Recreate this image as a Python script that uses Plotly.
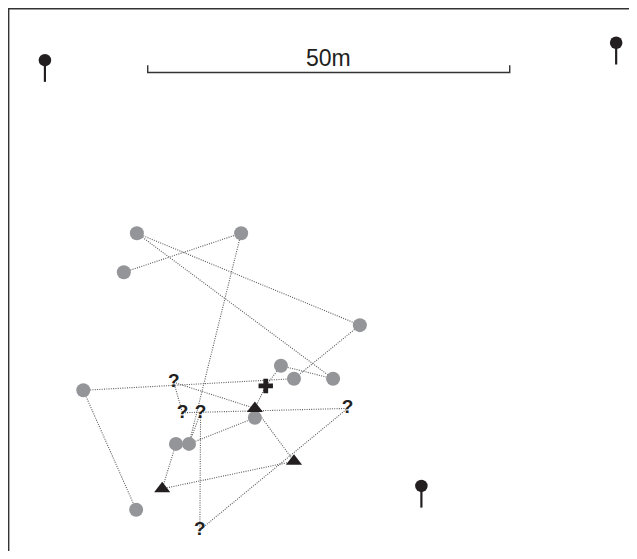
import plotly.graph_objects as go

# ---- data (metres; origin at lower-left of the map frame) ----
circle_names = ["A", "B", "C", "D", "E", "F", "G", "H", "I", "J", "K", "L"]
circle_x = [17.8, 32.2, 16.0, 48.6, 37.7, 39.5, 44.9, 10.4, 34.1, 23.2, 25.0, 17.7]
circle_y = [45.0, 45.0, 39.6, 32.3, 26.7, 24.9, 24.9, 23.3, 19.5, 15.9, 15.9, 6.8]

triangle_names = ["T1", "T2", "T3"]
triangle_x = [34.1, 39.5, 21.3]
triangle_y = [20.8, 13.5, 9.7]

question_names = ["Q1", "Q2", "Q3", "Q4", "Q5"]
question_x = [22.9, 24.1, 26.6, 46.9, 26.5]
question_y = [24.4, 20.2, 20.2, 20.8, 4.0]

cross_names = ["X"]
cross_x = [35.6]
cross_y = [23.9]

pin_x = [5.1, 84.0, 57.1]
pin_y = [68.9, 71.3, 10.1]

edges = [("A", "D"), ("A", "G"), ("C", "B"), ("B", "K"), ("D", "F"), ("E", "G"),
         ("E", "X"), ("X", "T1"), ("H", "F"), ("H", "L"), ("Q1", "T1"), ("Q1", "Q2"),
         ("Q2", "Q4"), ("Q3", "Q5"), ("Q3", "K"), ("Q5", "Q4"), ("K", "I"),
         ("J", "T3"), ("T3", "T2"), ("T1", "T2")]

scale_start_x = 19.3
scale_y = 67.2
scale_length = 50
scale_label = "50m"

# ---- styling ----
PX_PER_M = 7.24
MARGIN = 8               # browser body margin
W, H = 637 - MARGIN, 559 - 2 * MARGIN   # avoid page scrollbars
FRAME_PX = 0.7
BLACK = "#231f20"
GREY = "#939598"
LINE_GREY = "#58595b"
STEM_M = 3.0
TICK_M = 1.0

nodes = {}
for names, xs, ys in [(circle_names, circle_x, circle_y),
                      (triangle_names, triangle_x, triangle_y),
                      (question_names, question_x, question_y),
                      (cross_names, cross_x, cross_y)]:
    for n, x, y in zip(names, xs, ys):
        nodes[n] = (x, y)

ex, ey = [], []
for a, b in edges:
    ex += [nodes[a][0], nodes[b][0], None]
    ey += [nodes[a][1], nodes[b][1], None]

fig = go.Figure()

fig.add_trace(go.Scatter(x=ex, y=ey, mode="lines",
                         line=dict(color=LINE_GREY, width=1.1, dash="1px,1.3px"),
                         hoverinfo="skip"))

fig.add_trace(go.Scatter(x=circle_x, y=circle_y, mode="markers",
                         marker=dict(symbol="circle", size=14, color=GREY,
                                     line=dict(width=0))))

fig.add_trace(go.Scatter(x=triangle_x, y=triangle_y, mode="markers",
                         marker=dict(symbol="triangle-up", size=14, color=BLACK,
                                     line=dict(width=0))))

fig.add_trace(go.Scatter(x=cross_x, y=cross_y, mode="markers",
                         marker=dict(symbol="cross", size=12, color=BLACK,
                                     line=dict(width=0))))

fig.add_trace(go.Scatter(x=question_x, y=question_y, mode="text",
                         text=["?"] * len(question_x), textposition="middle center",
                         textfont=dict(family="Liberation Sans, Arial, sans-serif",
                                       size=19, color=BLACK, weight="bold")))

# pins
sx, sy = [], []
for x, y in zip(pin_x, pin_y):
    sx += [x, x, None]
    sy += [y, y - STEM_M, None]
fig.add_trace(go.Scatter(x=sx, y=sy, mode="lines",
                         line=dict(color=BLACK, width=2.2), hoverinfo="skip"))
fig.add_trace(go.Scatter(x=pin_x, y=pin_y, mode="markers",
                         marker=dict(symbol="circle", size=12.5, color=BLACK,
                                     line=dict(width=0))))

# scale bar
x0, x1 = scale_start_x, scale_start_x + scale_length
fig.add_trace(go.Scatter(x=[x0, x0, x1, x1], y=[scale_y + TICK_M, scale_y, scale_y, scale_y + TICK_M],
                         mode="lines", line=dict(color="#333333", width=1.4),
                         hoverinfo="skip"))
fig.add_annotation(x=(x0 + x1) / 2, y=scale_y, text=scale_label, showarrow=False,
                   yanchor="middle", xanchor="center", yshift=14,
                   font=dict(family="Liberation Sans, Arial, sans-serif", size=23, color=BLACK))

# frame (open to the right and bottom, as cropped)
fig.add_shape(type="path", xref="paper", yref="paper",
              path=f"M {FRAME_PX / W},{-0.05} L {FRAME_PX / W},{1 - FRAME_PX / H} L 1.05,{1 - FRAME_PX / H}",
              line=dict(color="#333333", width=1.4))

y_top = (H + MARGIN) / PX_PER_M
fig.update_layout(
    width=W, height=H, margin=dict(l=0, r=0, t=0, b=0),
    paper_bgcolor="white", plot_bgcolor="white", showlegend=False,
    xaxis=dict(range=[0, W / PX_PER_M], visible=False, fixedrange=True),
    yaxis=dict(range=[y_top - H / PX_PER_M, y_top], visible=False, fixedrange=True),
)

fig.write_html("out.html")
